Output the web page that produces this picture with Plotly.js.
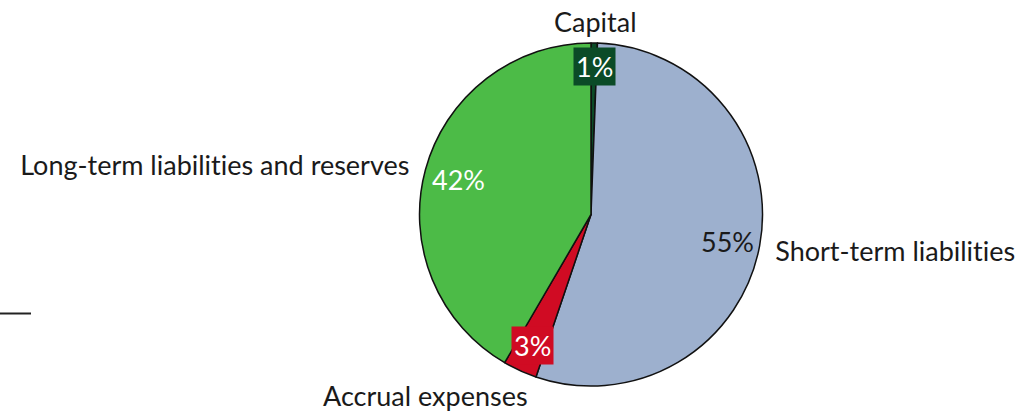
<!DOCTYPE html>
<html>
<head>
<meta charset="utf-8">
<script src="https://cdn.plot.ly/plotly-3.0.1.min.js"></script>
<style>
html,body{margin:0;padding:0;background:#fff;}
#chart{width:1018px;height:414px;}
#chart text{font-variant-ligatures:none;font-feature-settings:"liga" 0;}
</style>
</head>
<body>
<div id="chart"></div>
<script>
const categories = ["Capital", "Short-term liabilities", "Accrual expenses", "Long-term liabilities and reserves"];
const values = [0.6, 54.6, 3.2, 41.6];
const colors = ["#0B4B27", "#9DB0CE", "#D00B23", "#4CBB47"];

const W = 1018, H = 414;
const cx = 591, cy = 214.5, R = 171.5;
const px = x => x / W;
const py = y => 1 - y / H;

const total = values.reduce((a, b) => a + b, 0);
const pct = values.map(v => Math.round(v / total * 100) + "%");

const FONT = "Lato, 'Open Sans', sans-serif";

const namePos = [
  {x: 595, y: 21, xa: "center"},
  {x: 773, y: 250, xa: "left"},
  {x: 425, y: 395.5, xa: "center"},
  {x: 412, y: 164, xa: "right"}
];
const pctPos = [
  {x: 594.5, y: 66.5, color: "#ffffff", bg: colors[0]},
  {x: 727, y: 241, color: "#1a1a1a", bg: null},
  {x: 532.5, y: 345.5, color: "#ffffff", bg: colors[2]},
  {x: 458, y: 180, color: "#ffffff", bg: null}
];

const annotations = [];
categories.forEach((c, i) => {
  annotations.push({
    text: c, xref: "paper", yref: "paper",
    x: px(namePos[i].x), y: py(namePos[i].y),
    xanchor: namePos[i].xa, yanchor: "middle", showarrow: false,
    font: {family: FONT, size: 27, color: "#1a1a1a"}
  });
  const a = {
    text: pct[i], xref: "paper", yref: "paper",
    x: px(pctPos[i].x), y: py(pctPos[i].y),
    xanchor: "center", yanchor: "middle", showarrow: false,
    font: {family: FONT, size: 27, color: pctPos[i].color}
  };
  if (pctPos[i].bg) { a.bgcolor = pctPos[i].bg; a.borderpad = 2; }
  annotations.push(a);
});

const trace = {
  type: "pie",
  labels: categories,
  values: values,
  sort: false,
  direction: "clockwise",
  rotation: 0,
  marker: {colors: colors, line: {color: "#111111", width: 1.5}},
  textinfo: "none",
  hoverinfo: "label+percent",
  showlegend: false,
  domain: {x: [px(cx - R), px(cx + R)], y: [py(cy + R), py(cy - R)]}
};

const layout = {
  width: W, height: H,
  margin: {l: 0, r: 0, t: 0, b: 0},
  paper_bgcolor: "#ffffff",
  showlegend: false,
  annotations: annotations,
  shapes: [{type: "line", xref: "paper", yref: "paper", x0: 0, x1: px(31), y0: py(313.5), y1: py(313.5), line: {color: "#222222", width: 2}}]
};

Plotly.newPlot("chart", [trace], layout, {displayModeBar: false, staticPlot: true});
</script>
</body>
</html>
